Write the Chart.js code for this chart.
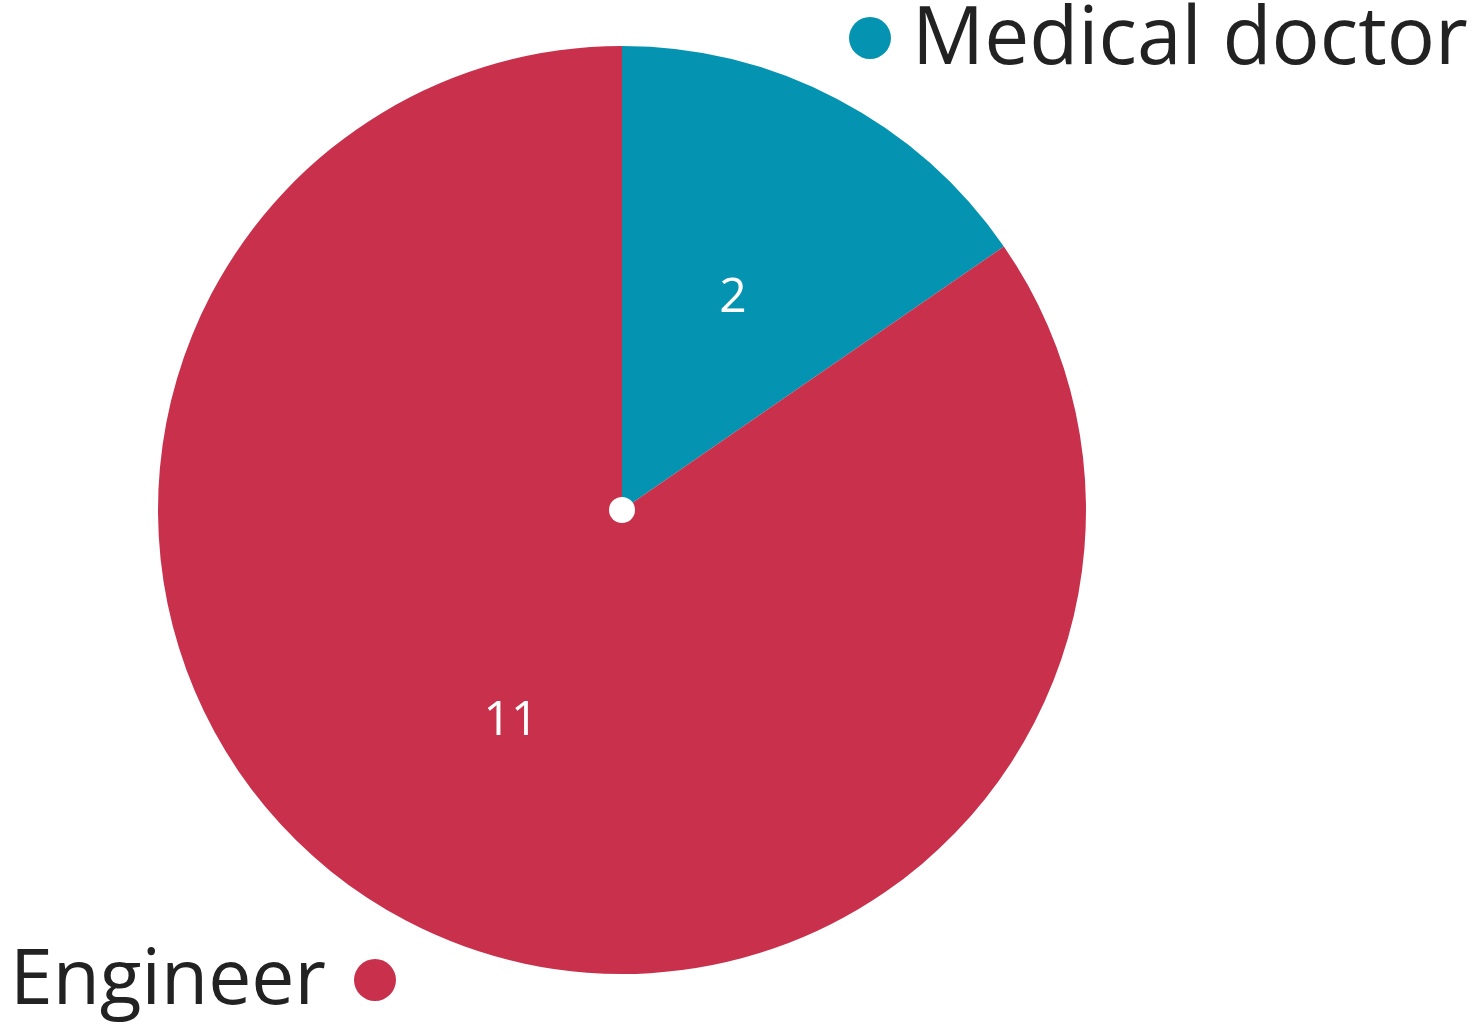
<!DOCTYPE html>
<html>
<head>
<meta charset="utf-8">
<script src="https://cdn.jsdelivr.net/npm/chart.js@4"></script>
<style>
  html, body { margin: 0; padding: 0; background: #ffffff; }
  #wrap { width: 1479px; height: 1024px; }
</style>
</head>
<body>
<div id="wrap"><canvas id="c" width="1479" height="1024"></canvas></div>
<script>
const categories = ["Medical doctor", "Engineer"];
const values = [2, 11];
const colors = ["#0493B0", "#C8304C"];

const FONT = "'Open Sans', 'Noto Sans', sans-serif";

const overlay = {
  id: 'overlay',
  afterDatasetsDraw(chart) {
    const ctx = chart.ctx;
    const meta = chart.getDatasetMeta(0);
    // value labels inside slices
    ctx.save();
    ctx.fillStyle = '#ffffff';
    ctx.font = '400 48px ' + FONT;
    ctx.textAlign = 'center';
    ctx.textBaseline = 'middle';
    meta.data.forEach((arc, i) => {
      const p = arc.getProps(['x','y','startAngle','endAngle','outerRadius'], true);
      const mid = (p.startAngle + p.endAngle) / 2;
      const r = p.outerRadius * 0.515;
      ctx.fillText(String(values[i]), p.x + Math.cos(mid) * r, p.y + Math.sin(mid) * r);
    });
    // center dot
    const a0 = meta.data[0].getProps(['x','y'], true);
    ctx.beginPath();
    ctx.arc(a0.x, a0.y, 13, 0, Math.PI * 2);
    ctx.fillStyle = '#ffffff';
    ctx.fill();

    // category labels
    function fitFont(text, width) {
      ctx.font = '400 60px ' + FONT;
      const w = ctx.measureText(text).width;
      return 60 * width / w;
    }
    ctx.fillStyle = '#222222';
    ctx.textBaseline = 'alphabetic';
    // Medical doctor (top right)
    let fs = fitFont(categories[0], 556);
    ctx.font = '400 ' + fs + 'px ' + FONT;
    ctx.textAlign = 'left';
    ctx.fillText(categories[0], 912, 64);
    ctx.beginPath();
    ctx.arc(870, 38, 21, 0, Math.PI * 2);
    ctx.fillStyle = colors[0];
    ctx.fill();
    // Engineer (bottom left)
    ctx.fillStyle = '#222222';
    fs = fitFont(categories[1], 316);
    ctx.font = '400 ' + fs + 'px ' + FONT;
    ctx.fillText(categories[1], 10, 1004);
    ctx.beginPath();
    ctx.arc(375, 980, 21, 0, Math.PI * 2);
    ctx.fillStyle = colors[1];
    ctx.fill();
    ctx.restore();
  }
};

new Chart(document.getElementById('c'), {
  type: 'pie',
  data: {
    labels: categories,
    datasets: [{
      data: values,
      backgroundColor: colors,
      borderWidth: 0
    }]
  },
  options: {
    responsive: false,
    animation: false,
    layout: { padding: { left: 158, right: 393, top: 46, bottom: 50 } },
    plugins: {
      legend: { display: false },
      tooltip: { enabled: false },
      title: { display: false }
    }
  },
  plugins: [overlay]
});
</script>
</body>
</html>
